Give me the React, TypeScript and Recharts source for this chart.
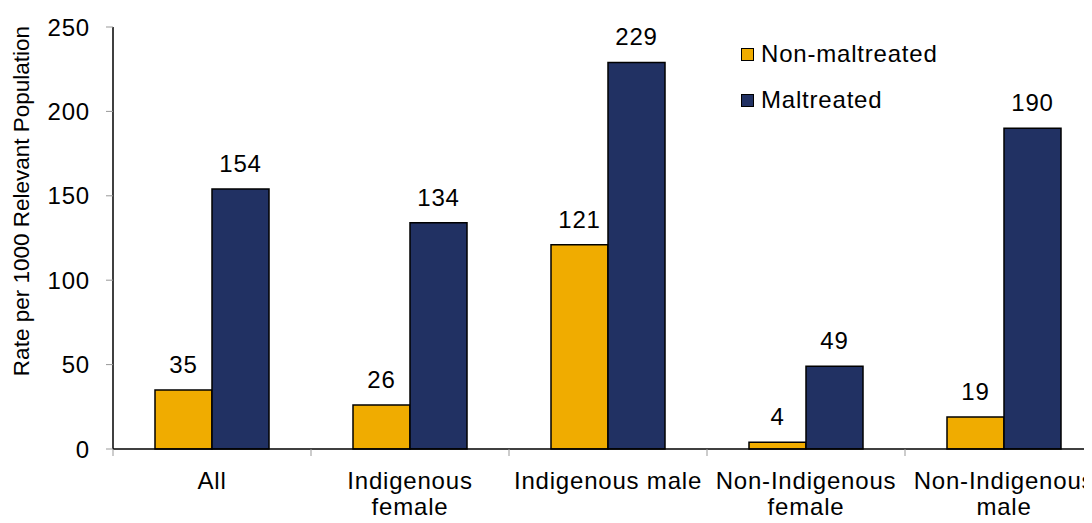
import React from 'react';
import { BarChart, Bar, XAxis, YAxis, LabelList } from 'recharts';

// Category names and the two series
const categories = ['All', 'Indigenous female', 'Indigenous male', 'Non-Indigenous female', 'Non-Indigenous male'];
const nonMaltreated = [35, 26, 121, 4, 19];
const maltreated = [154, 134, 229, 49, 190];
const yTicks = [0, 50, 100, 150, 200, 250];

const data = categories.map((name, i) => ({
  name,
  nonMaltreated: nonMaltreated[i],
  maltreated: maltreated[i],
}));

const ORANGE = '#F0AC00';
const NAVY = '#213163';
const FONT = '"Liberation Sans", Arial, sans-serif';
const FS = 24;
const LS = 0.8; // the original glyphs run a little wider
const HALF_BAND = 99; // plot is 990px wide over 5 categories

// greedy wrap, roughly how the original breaks the long labels
const wrap = (s: string, max = 15) => {
  const lines: string[] = [];
  let cur = '';
  s.split(' ').forEach((w) => {
    const next = cur ? cur + ' ' + w : w;
    if (next.length > max && cur) {
      lines.push(cur);
      cur = w;
    } else cur = next;
  });
  if (cur) lines.push(cur);
  return lines;
};

const CategoryTick = (props: any) => {
  const { x, y, payload } = props;
  const lines = wrap(String(payload.value));
  return (
    <g>
      <line x1={x - HALF_BAND} x2={x - HALF_BAND} y1={449} y2={456} stroke="#999" />
      <text x={x} y={y + 32} textAnchor="middle" fontSize={FS} letterSpacing={LS} fontFamily={FONT} fill="#000">
        {lines.map((l, i) => (
          <tspan key={i} x={x} dy={i === 0 ? 0 : 26}>
            {l}
          </tspan>
        ))}
      </text>
    </g>
  );
};

const legendItems = [
  { label: 'Non-maltreated', color: ORANGE },
  { label: 'Maltreated', color: NAVY },
];

export default function App() {
  return (
    <div style={{ margin: -8, width: 1092, height: 523, overflow: 'hidden', background: '#fff', position: 'relative' }}>
      <BarChart
        width={1110}
        height={523}
        data={data}
        margin={{ top: 27, right: 7, left: 0, bottom: 0 }}
        barCategoryGap={42}
        barGap={0}
      >
        <XAxis
          dataKey="name"
          height={74}
          tickLine={false}
          axisLine={{ stroke: '#000', strokeWidth: 1.5 }}
          tick={<CategoryTick />}
          interval={0}
        />
        <YAxis
          domain={[0, 250]}
          ticks={yTicks}
          width={113}
          tickSize={7}
          tickMargin={16}
          tickLine={{ stroke: '#999' }}
          axisLine={{ stroke: '#000', strokeWidth: 1.5 }}
          tick={{ fill: '#000', fontSize: FS, fontFamily: FONT, letterSpacing: LS }}
          label={() => (
            <text
              x={29}
              y={201}
              transform="rotate(-90, 29, 201)"
              textAnchor="middle"
              fontSize={22.5}
              fontFamily={FONT}
              fill="#000"
            >
              Rate per 1000 Relevant Population
            </text>
          )}
        />
        <Bar dataKey="nonMaltreated" name="Non-maltreated" fill={ORANGE} stroke="#000" strokeWidth={1.5} isAnimationActive={false}>
          <LabelList dataKey="nonMaltreated" position="top" offset={17} fill="#000" fontSize={FS} fontFamily={FONT} letterSpacing={LS} />
        </Bar>
        <Bar dataKey="maltreated" name="Maltreated" fill={NAVY} stroke="#000" strokeWidth={1.5} isAnimationActive={false}>
          <LabelList dataKey="maltreated" position="top" offset={17} fill="#000" fontSize={FS} fontFamily={FONT} letterSpacing={LS} />
        </Bar>
      </BarChart>
      <div style={{ position: 'absolute', left: 741, top: 31, fontFamily: FONT, fontSize: FS, letterSpacing: LS, color: '#000' }}>
        {legendItems.map((item) => (
          <div key={item.label} style={{ display: 'flex', alignItems: 'center', height: 46 }}>
            <span
              style={{
                display: 'inline-block',
                width: 11,
                height: 11,
                background: item.color,
                border: '1.5px solid #000',
                marginRight: 7,
              }}
            />
            {item.label}
          </div>
        ))}
      </div>
    </div>
  );
}
